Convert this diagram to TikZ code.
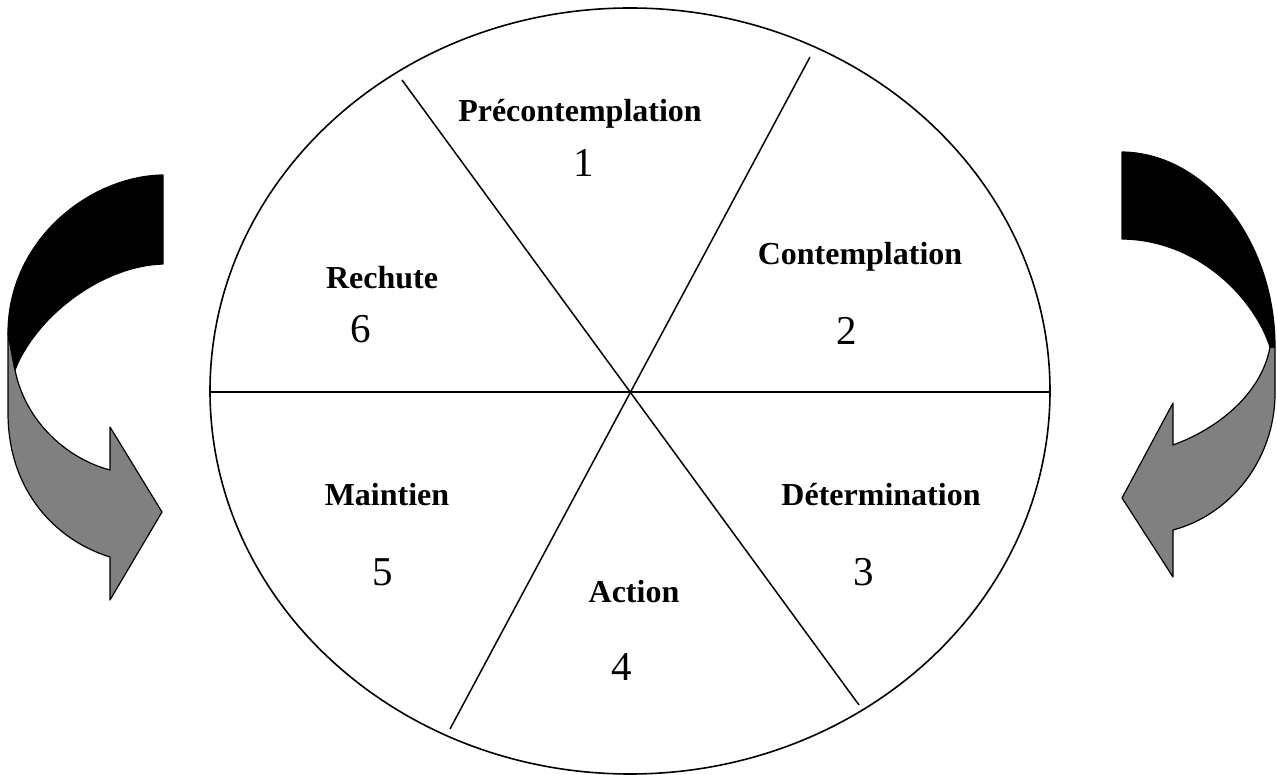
\documentclass[tikz,border=0pt]{standalone}
\usepackage{fontspec}
\setmainfont{Liberation Serif}
\begin{document}
\begin{tikzpicture}[x=1pt,y=-1pt,
  lbl/.style={font=\fontsize{32}{32}\selectfont\bfseries, anchor=base, inner sep=0pt},
  num/.style={font=\fontsize{41}{41}\selectfont, anchor=base, inner sep=0pt},
  divider/.style={line width=1.5pt},
  arrowblack/.style={fill=black, draw=black, line width=1.2pt, line join=round},
  arrowgray/.style={fill=gray, draw=black, line width=1.2pt, line join=round}]
\useasboundingbox (0,0) rectangle (1277,775);
% wheel
\draw[line width=1.6pt] (630,391) ellipse [x radius=420pt, y radius=383pt];
\coordinate (l1a) at (402,80);
\coordinate (l1b) at (859,705);
\coordinate (l2a) at (810,57);
\coordinate (l2b) at (450,729);
\coordinate (hl) at (210,392);
\coordinate (hr) at (1050,392);
\draw[divider] (l1a) -- (l1b);
\draw[divider] (l2a) -- (l2b);
\draw[divider] (hl) -- (hr);
% labels
\node[lbl] (t1) at (580,122) {Précontemplation};
\node[num] (n1) at (584,177) {1};
\node[lbl] (t2) at (860,265) {Contemplation};
\node[num] (n2) at (847,345) {2};
\node[lbl] (t3) at (881,505) {Détermination};
\node[num] (n3) at (864,585) {3};
\node[lbl] (t4) at (634,602) {Action};
\node[num] (n4) at (622,680) {4};
\node[lbl] (t5) at (387,505) {Maintien};
\node[num] (n5) at (383,585) {5};
\node[lbl] (t6) at (382,289) {Rechute};
\node[num] (n6) at (361,343) {6};
% left curved arrow
\draw[arrowgray] (8,333) -- (8,413) .. controls (8,490) and (55,540) .. (110,557)
  -- (110,600) -- (162,512) -- (110,427) -- (110,470)
  .. controls (65,458) and (25,420) .. (15,370) -- cycle;
\draw[arrowblack] (163,175) .. controls (90,176) and (8,240) .. (8,333)
  -- (15,370) .. controls (35,318) and (100,266) .. (163,264) -- cycle;
% right curved arrow
\draw[arrowgray] (1275,347) -- (1275,393) .. controls (1275,460) and (1230,515) .. (1173,530)
  -- (1173,577) -- (1122,498) -- (1173,403) -- (1173,445)
  .. controls (1220,428) and (1262,392) .. (1270,347) -- cycle;
\draw[arrowblack] (1122,152) .. controls (1205,153) and (1275,240) .. (1275,347)
  -- (1270,347) .. controls (1255,300) and (1200,240) .. (1122,239) -- cycle;
\end{tikzpicture}
\end{document}
